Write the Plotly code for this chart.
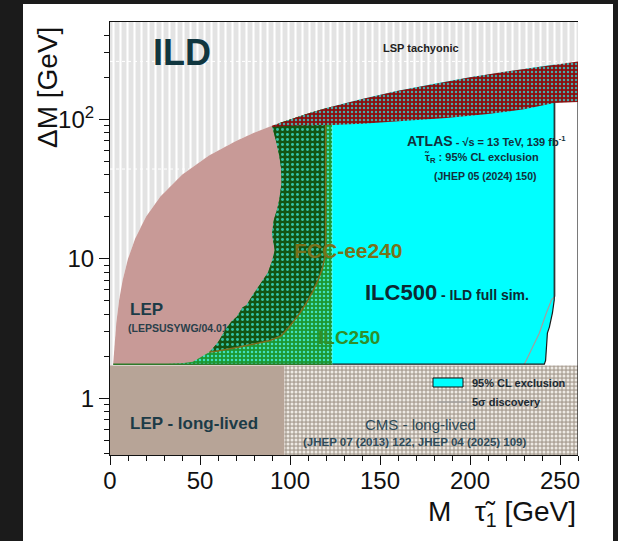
import plotly.graph_objects as go

# ---------------- data (M in GeV, dM in GeV) ----------------
# kinematic limit dM = M (LSP tachyonic above)
kin_M = [0.35, 0.5, 0.7, 1, 1.4, 1.756, 2.5, 3.5, 5, 7, 10, 14, 20, 28, 40, 55, 70, 80, 90, 90.2,
         95, 100, 110, 119.8, 123.5, 140, 160, 180, 200, 220, 240, 246.8, 260]

# LEP (pink)
lep_M = [1.756, 2.5, 3.5, 5, 7, 10, 14, 20, 28, 40, 55, 70, 80, 90, 96, 96]
lep_dM = [1.756, 2.5, 3.5, 5, 7, 10, 14, 20, 28, 40, 55, 70, 80, 90, 96, 1.756]

# left boundary of the ILC250 / FCC-ee240 regions (bottom -> top)
green_left_M = [29.3, 40, 46, 49.7, 53, 55.3, 59.8, 62.5, 64.8, 67.5, 70.4, 73.7, 75.8, 78.5, 81.4,
                84.5, 87.6, 90, 91.5, 90.5, 90, 91, 93, 94, 95.3, 95, 94, 92.5, 91.2, 90.2]
green_left_dM = [1.756, 1.78, 1.83, 1.95, 2.05, 2.15, 2.5, 2.85, 3.2, 3.55, 3.84, 4.5, 4.65, 5.3, 5.97,
                 6.9, 7.9, 9.6, 11.5, 13.5, 15.2, 19, 23, 26.4, 34.9, 45, 55, 67.6, 78, 88]
ilc250_Mmax = 123.5
dM_floor = 1.756

# FCC-ee240 lower / right contour (left -> right, then up)
fcc_M = [55.3, 59, 72, 83, 89, 95, 100, 105, 109, 112.5, 115.5, 118, 119.5, 119.8, 119.8]
fcc_dM = [2.15, 2.17, 2.33, 2.5, 2.6, 2.8, 3.3, 4.0, 4.8, 5.8, 7.0, 8.5, 10.5, 13, 119.8]

# ILC500 95% CL exclusion (right edge, bottom -> top)
ilc500_edge_M = [241.3, 242, 243, 244.1, 245.8, 246.8, 246.8]
ilc500_edge_dM = [1.756, 1.87, 2.93, 3.24, 4.09, 5.07, 137]

# ILC500 5 sigma discovery
disc_M = [230.2, 231.3, 234.6, 238.5, 242.4, 245.3, 247.3, 247.3]
disc_dM = [1.756, 1.88, 2.34, 2.93, 4.09, 5.07, 5.4, 137]

# ATLAS tau_R 95% CL exclusion band
atlas_M = [90, 95, 100, 110, 123.6, 140, 160, 187, 210, 230, 246.8, 260]
atlas_lo = [88, 89, 90, 90.5, 91, 93, 96.5, 102, 109, 118, 131, 133]

# long-lived regions
ll_dM = [0.35, 1.72]
lep_ll_M = [0, 97]
cms_ll_M = [97, 260]

# dotted artefact lines
dot_lines = [(44, 44), (260, 262)]

# ---------------- helpers for layout positions (pixels -> paper) ----------------
L, R, T, B = 110, 578, 22, 455
W, H = R - L, B - T


def px(x):
    return (x - L) / W


def py(y):
    return (B - y) / H


FONT = "Liberation Sans, Arial, sans-serif"
fig = go.Figure()

# tachyonic region (grey with white vertical stripes)
tx = kin_M + [260, 0, 0]
ty = kin_M + [700, 700, 0.35]
fig.add_trace(go.Scatter(x=tx, y=ty, fill="toself", mode="lines", line=dict(width=0),
                         fillcolor="#e3e3e3",
                         fillpattern=dict(shape="|", bgcolor="#e3e3e3", fgcolor="#ffffff",
                                          size=7, solidity=0.3, fillmode="replace"),
                         hoverinfo="skip"))
for dm, mmax in dot_lines:
    fig.add_trace(go.Scatter(x=[0, mmax], y=[dm, dm], mode="lines",
                             line=dict(color="white", width=1, dash="dot"), hoverinfo="skip"))

# LEP pink
fig.add_trace(go.Scatter(x=lep_M, y=lep_dM, fill="toself", mode="lines", line=dict(width=0),
                         fillcolor="#c89a97", hoverinfo="skip"))
# LEP reference text (under the green)
fig.add_trace(go.Scatter(x=[10], y=[3.14], mode="text", text=["<b>(LEPSUSYWG/04.01.1)</b>"],
                         textposition="middle right",
                         textfont=dict(family=FONT, size=10.5, color="#2a3f4a"), hoverinfo="skip"))

# ILC250 light green
kin_top_250 = [m for m in kin_M if 90.2 < m < ilc250_Mmax]
g_x = green_left_M + kin_top_250 + [ilc250_Mmax, ilc250_Mmax, green_left_M[0]]
g_y = green_left_dM + kin_top_250 + [ilc250_Mmax, dM_floor, dM_floor]
fig.add_trace(go.Scatter(x=g_x, y=g_y, fill="toself", mode="lines", line=dict(width=0),
                         fillcolor="#1a9a30",
                         fillpattern=dict(shape=".", bgcolor="#1c9830", fgcolor="#3fe0c0",
                                          size=4, solidity=0.3, fillmode="replace"),
                         hoverinfo="skip"))

# FCC-ee240 dark green
i0 = green_left_dM.index(2.15)
kin_top_fcc = [m for m in kin_M if 90.2 < m < 119.8]
f_x = green_left_M[i0:] + kin_top_fcc + fcc_M[::-1]
f_y = green_left_dM[i0:] + kin_top_fcc + fcc_dM[::-1]
fig.add_trace(go.Scatter(x=f_x, y=f_y, fill="toself", mode="lines", line=dict(width=0),
                         fillcolor="#14581a",
                         fillpattern=dict(shape=".", bgcolor="#135412", fgcolor="#34c4a8",
                                          size=5, solidity=0.28, fillmode="replace"),
                         hoverinfo="skip"))
fig.add_trace(go.Scatter(x=fcc_M, y=fcc_dM, mode="lines", line=dict(color="#7d6c1c", width=1.5),
                         hoverinfo="skip"))

# ILC500 cyan
kin_top_500 = [m for m in kin_M if ilc250_Mmax <= m <= 246.8][::-1]
c_x = [ilc250_Mmax] + ilc500_edge_M + [246.8] + kin_top_500
c_y = [dM_floor] + ilc500_edge_dM + [246.8] + kin_top_500
fig.add_trace(go.Scatter(x=c_x, y=c_y, fill="toself", mode="lines", line=dict(width=0),
                         fillcolor="#00ffff", hoverinfo="skip"))
fig.add_trace(go.Scatter(x=disc_M, y=disc_dM, mode="lines", line=dict(color="#a0a0a0", width=1.2),
                         hoverinfo="skip"))
fig.add_trace(go.Scatter(x=[ilc250_Mmax] + ilc500_edge_M, y=[dM_floor] + ilc500_edge_dM, mode="lines",
                         line=dict(color="#1a1a1a", width=1.2), hoverinfo="skip"))

# ATLAS red band
kin_top_atl = [m for m in kin_M if 90 <= m <= 260][::-1]
a_x = atlas_M + kin_top_atl
a_y = atlas_lo + kin_top_atl
fig.add_trace(go.Scatter(x=a_x, y=a_y, fill="toself", mode="lines", line=dict(width=0),
                         fillcolor="#8b0d0d",
                         fillpattern=dict(shape=".", bgcolor="#8b0d0d", fgcolor="#4aa8a8",
                                          size=4, solidity=0.3, fillmode="replace"),
                         hoverinfo="skip"))

# green floor line
fig.add_trace(go.Scatter(x=[1.756, ilc250_Mmax], y=[dM_floor, dM_floor], mode="lines",
                         line=dict(color="#2e7a2a", width=1.5), hoverinfo="skip"))

# long-lived bands
fig.add_trace(go.Scatter(x=[lep_ll_M[0], lep_ll_M[1], lep_ll_M[1], lep_ll_M[0]],
                         y=[ll_dM[0], ll_dM[0], ll_dM[1], ll_dM[1]], fill="toself", mode="lines",
                         line=dict(width=0), fillcolor="#b7a497", hoverinfo="skip"))
fig.add_trace(go.Scatter(x=[cms_ll_M[0], cms_ll_M[1], cms_ll_M[1], cms_ll_M[0]],
                         y=[ll_dM[0], ll_dM[0], ll_dM[1], ll_dM[1]], fill="toself", mode="lines",
                         line=dict(width=0), fillcolor="#b4aa9f",
                         fillpattern=dict(shape=".", bgcolor="#afa59a", fgcolor="#eeeae4",
                                          size=4, solidity=0.45, fillmode="replace"),
                         hoverinfo="skip"))

# right frame (visible below the ATLAS band)
fig.add_trace(go.Scatter(x=[260, 260], y=[0.35, 133], mode="lines",
                         line=dict(color="#222", width=1.2), hoverinfo="skip"))

# ---------------- annotations ----------------
ann = []


def A(text, x, y, size, color="#13303c", bold=True, xanchor="center", **kw):
    t = f"<b>{text}</b>" if bold else text
    ann.append(dict(text=t, x=px(x), y=py(y), xref="paper", yref="paper", showarrow=False,
                    xanchor=xanchor, yanchor="middle",
                    font=dict(family=FONT, size=size, color=color), **kw))


A("ILD", 182, 52, 36, color="#10363f")
A("LSP tachyonic", 421, 48, 11, color="#222")
A("<span style='font-size:14px'>ATLAS</span> - √s = 13 TeV, 139 fb<sup>-1</sup>", 486, 141, 11)
A("τ̃<sub>R</sub> : 95% CL exclusion", 482, 158, 11)
A("(JHEP 05 (2024) 150)", 485, 176, 10.5)
A("FCC-ee240", 292, 250, 21, color="#78711a", xanchor="left")
A("<span style='font-size:22px'>ILC500</span> - ILD full sim.", 363, 292, 14, color="#0d2a33",
  xanchor="left")
A("ILC250", 316, 337, 19, color="#2f8f2a", xanchor="left")
A("LEP", 128, 309, 17, color="#1c3b47", xanchor="left")
A("LEP - long-lived", 128, 423, 17, color="#1c3b47", xanchor="left")
A("CMS - long-lived", 420, 424, 15, color="#2d4a58", bold=False)
A("(JHEP 07 (2013) 122, JHEP 04 (2025) 109)", 415, 442, 11.5, color="#2d4a58")
A("95% CL exclusion", 470, 383, 11, color="#1a2a33", xanchor="left")
A("5σ discovery", 470, 402, 11, color="#1a2a33", xanchor="left")
A("ΔM [GeV]", 48, 88, 28, color="#111", bold=False, textangle=-90)
A("M   τ̃<sub>1</sub> [GeV]", 578, 513, 28, color="#111", bold=False, xanchor="right")

shapes = [
    dict(type="rect", xref="paper", yref="paper", x0=px(23), x1=px(613), y0=py(560), y1=py(4),
         fillcolor="white", line=dict(width=0), layer="below"),
    dict(type="rect", xref="paper", yref="paper", x0=px(433), x1=px(463), y0=py(387), y1=py(378),
         fillcolor="#00ffff", line=dict(color="#111", width=1)),
    dict(type="line", xref="paper", yref="paper", x0=px(437), x1=px(467), y0=py(402), y1=py(402),
         line=dict(color="#a0a0a0", width=1.2)),
]

fig.update_layout(
    width=618, height=541,
    margin=dict(l=L, r=618 - R, t=T, b=541 - B),
    paper_bgcolor="#1b1b1b", plot_bgcolor="white",
    showlegend=False, annotations=ann, shapes=shapes,
    font=dict(family=FONT),
)
fig.update_xaxes(range=[0, 260], showgrid=False, zeroline=False, showline=True, linecolor="#111",
                 linewidth=1.2, mirror=True,
                 tickvals=[0, 50, 100, 150, 200, 250], ticks="outside", ticklen=9, tickcolor="#111",
                 ticklabelstandoff=-5,
                 tickfont=dict(size=24, color="#111", family=FONT),
                 minor=dict(dtick=10, ticks="outside", ticklen=5, tickcolor="#111", showgrid=False))
minor_y = [0.4, 0.5, 0.6, 0.7, 0.8, 0.9, 2, 3, 4, 5, 6, 7, 8, 9, 20, 30, 40, 50, 60, 70, 80, 90,
           200, 300, 400]
fig.update_yaxes(type="log", range=[-0.4065, 2.6975], showgrid=False, zeroline=False, showline=True,
                 linecolor="#111", linewidth=1.2,
                 tickvals=[1, 10, 100], ticktext=["1", "10", "10<sup>2</sup>"], ticks="outside",
                 ticklen=10, tickcolor="#111", tickfont=dict(size=24, color="#111", family=FONT),
                 minor=dict(tickvals=minor_y, ticks="outside", ticklen=5, tickcolor="#111",
                            showgrid=False))

fig.write_html("out.html")
